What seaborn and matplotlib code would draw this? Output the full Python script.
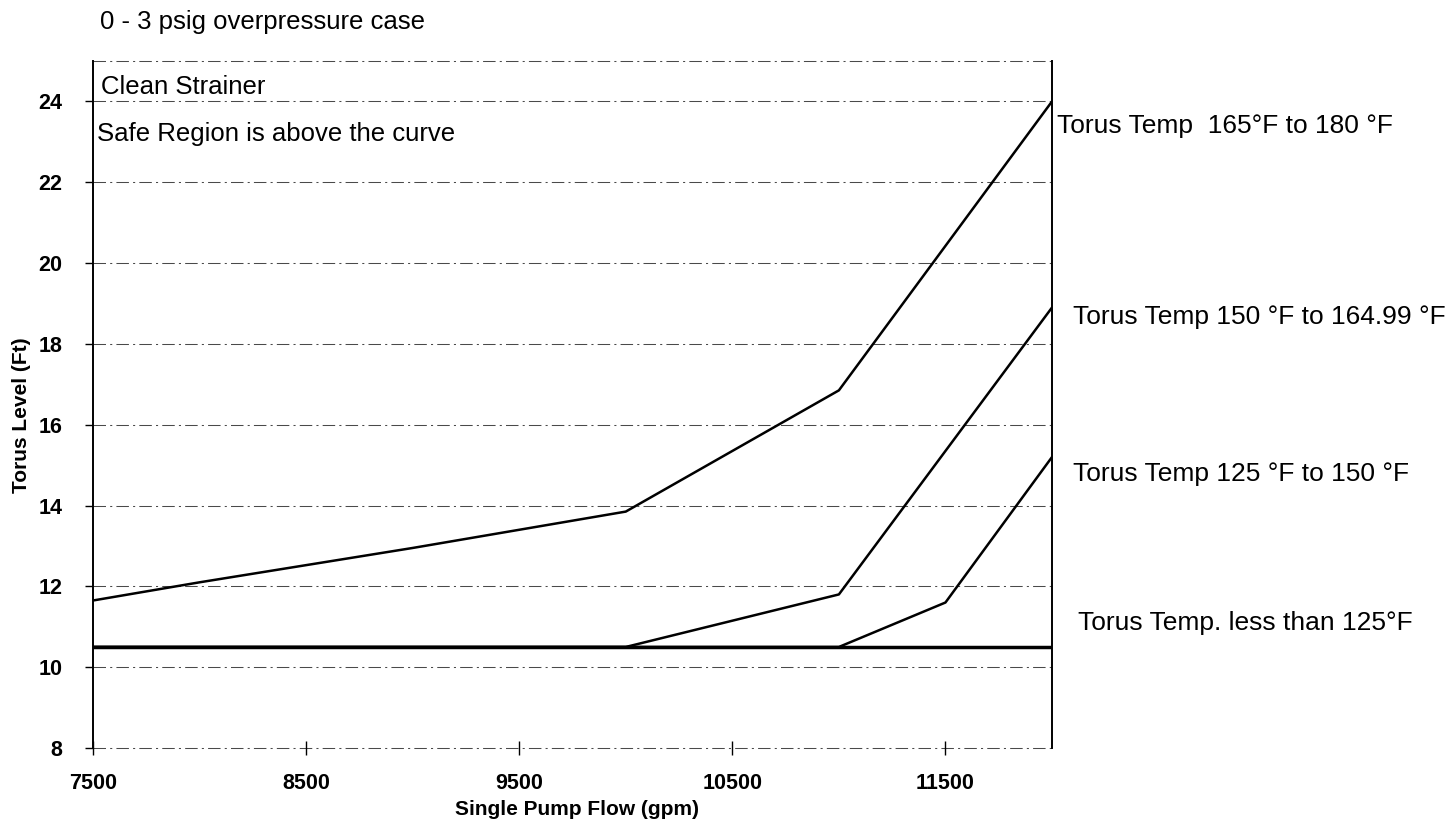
import matplotlib
matplotlib.use("Agg")
import matplotlib.pyplot as plt
import seaborn as sns
import pandas as pd

# ---- data ----
flow_165_180 = [7500, 8000, 9000, 10000, 11000, 12000]
level_165_180 = [11.65, 12.1, 12.95, 13.85, 16.85, 24.0]

flow_150_165 = [7500, 10000, 11000, 12000]
level_150_165 = [10.5, 10.5, 11.8, 18.9]

flow_125_150 = [7500, 11000, 11500, 12000]
level_125_150 = [10.5, 10.5, 11.6, 15.2]

flow_lt_125 = [7500, 12000]
level_lt_125 = [10.5, 10.5]

series_names = ["Torus Temp  165°F to 180 °F",
                "Torus Temp 150 °F to 164.99 °F",
                "Torus Temp 125 °F to 150 °F",
                "Torus Temp. less than 125°F"]

x_ticks = [7500, 8500, 9500, 10500, 11500]
y_ticks = [8, 10, 12, 14, 16, 18, 20, 22, 24]

frames = []
for name, xs, ys in zip(series_names,
                        [flow_165_180, flow_150_165, flow_125_150, flow_lt_125],
                        [level_165_180, level_150_165, level_125_150, level_lt_125]):
    frames.append(pd.DataFrame({"flow": xs, "level": ys, "series": name}))
df = pd.concat(frames, ignore_index=True)

sns.set_theme(style="white")
plt.rcParams["font.family"] = ["Liberation Sans", "DejaVu Sans"]
plt.rcParams["text.color"] = "black"
plt.rcParams["xtick.color"] = "black"
plt.rcParams["ytick.color"] = "black"

W, H = 1456, 822
fig = plt.figure(figsize=(W / 100, H / 100), dpi=100)
ax = fig.add_axes([93 / W, 1 - 748 / H, (1052 - 93) / W, (748 - 61) / H])

sns.lineplot(data=df, x="flow", y="level", hue="series", sort=False,
             palette=["black"] * 4, linewidth=1.8, legend=False, ax=ax)
for line in ax.get_lines()[-1:]:
    line.set_linewidth(2.5)

ax.set_xlim(7500, 12000)
ax.set_ylim(8, 25)
ax.set_xticks(x_ticks)
ax.set_yticks(y_ticks)
ax.set_xticklabels([str(t) for t in x_ticks], fontweight="bold", fontsize=15.5)
ax.set_yticklabels([str(t) for t in y_ticks], fontweight="bold", fontsize=15.5)

grid_style = dict(color="#4a4a4a", linewidth=0.75, linestyle=(0, (12, 4, 2, 4)))
for yv in y_ticks + [25]:
    ax.axhline(yv, zorder=0, clip_on=False, **grid_style)

for s in ["top", "bottom"]:
    ax.spines[s].set_visible(False)
for s in ["left", "right"]:
    ax.spines[s].set_color("black")
    ax.spines[s].set_linewidth(1.4)

ax.tick_params(axis="x", direction="inout", length=10, width=1, color="black", pad=13, bottom=True)
ax.tick_params(axis="y", direction="out", length=6, width=1, color="black", pad=16, left=True)

ax.set_xlabel("")
ax.set_ylabel("")

fig.text(577 / W, 1 - 809 / H, "Single Pump Flow (gpm)", ha="center", va="center",
         fontweight="bold", fontsize=15)
fig.text(22 / W, 1 - 415 / H, "Torus Level (Ft)", ha="center", va="center",
         rotation=90, fontweight="bold", fontsize=15)

fig.text(100 / W, 1 - 22 / H, "0 - 3 psig overpressure case", ha="left", va="center", fontsize=18.5)
fig.text(101 / W, 1 - 87 / H, "Clean Strainer", ha="left", va="center", fontsize=18.5)
fig.text(97 / W, 1 - 134 / H, "Safe Region is above the curve", ha="left", va="center", fontsize=18.5)

label_pos = [(1057, 126), (1073, 317), (1073, 474), (1078, 623)]
for name, (px, py) in zip(series_names, label_pos):
    fig.text(px / W, 1 - py / H, name, ha="left", va="center", fontsize=19)

fig.savefig("out.png", dpi=100)
